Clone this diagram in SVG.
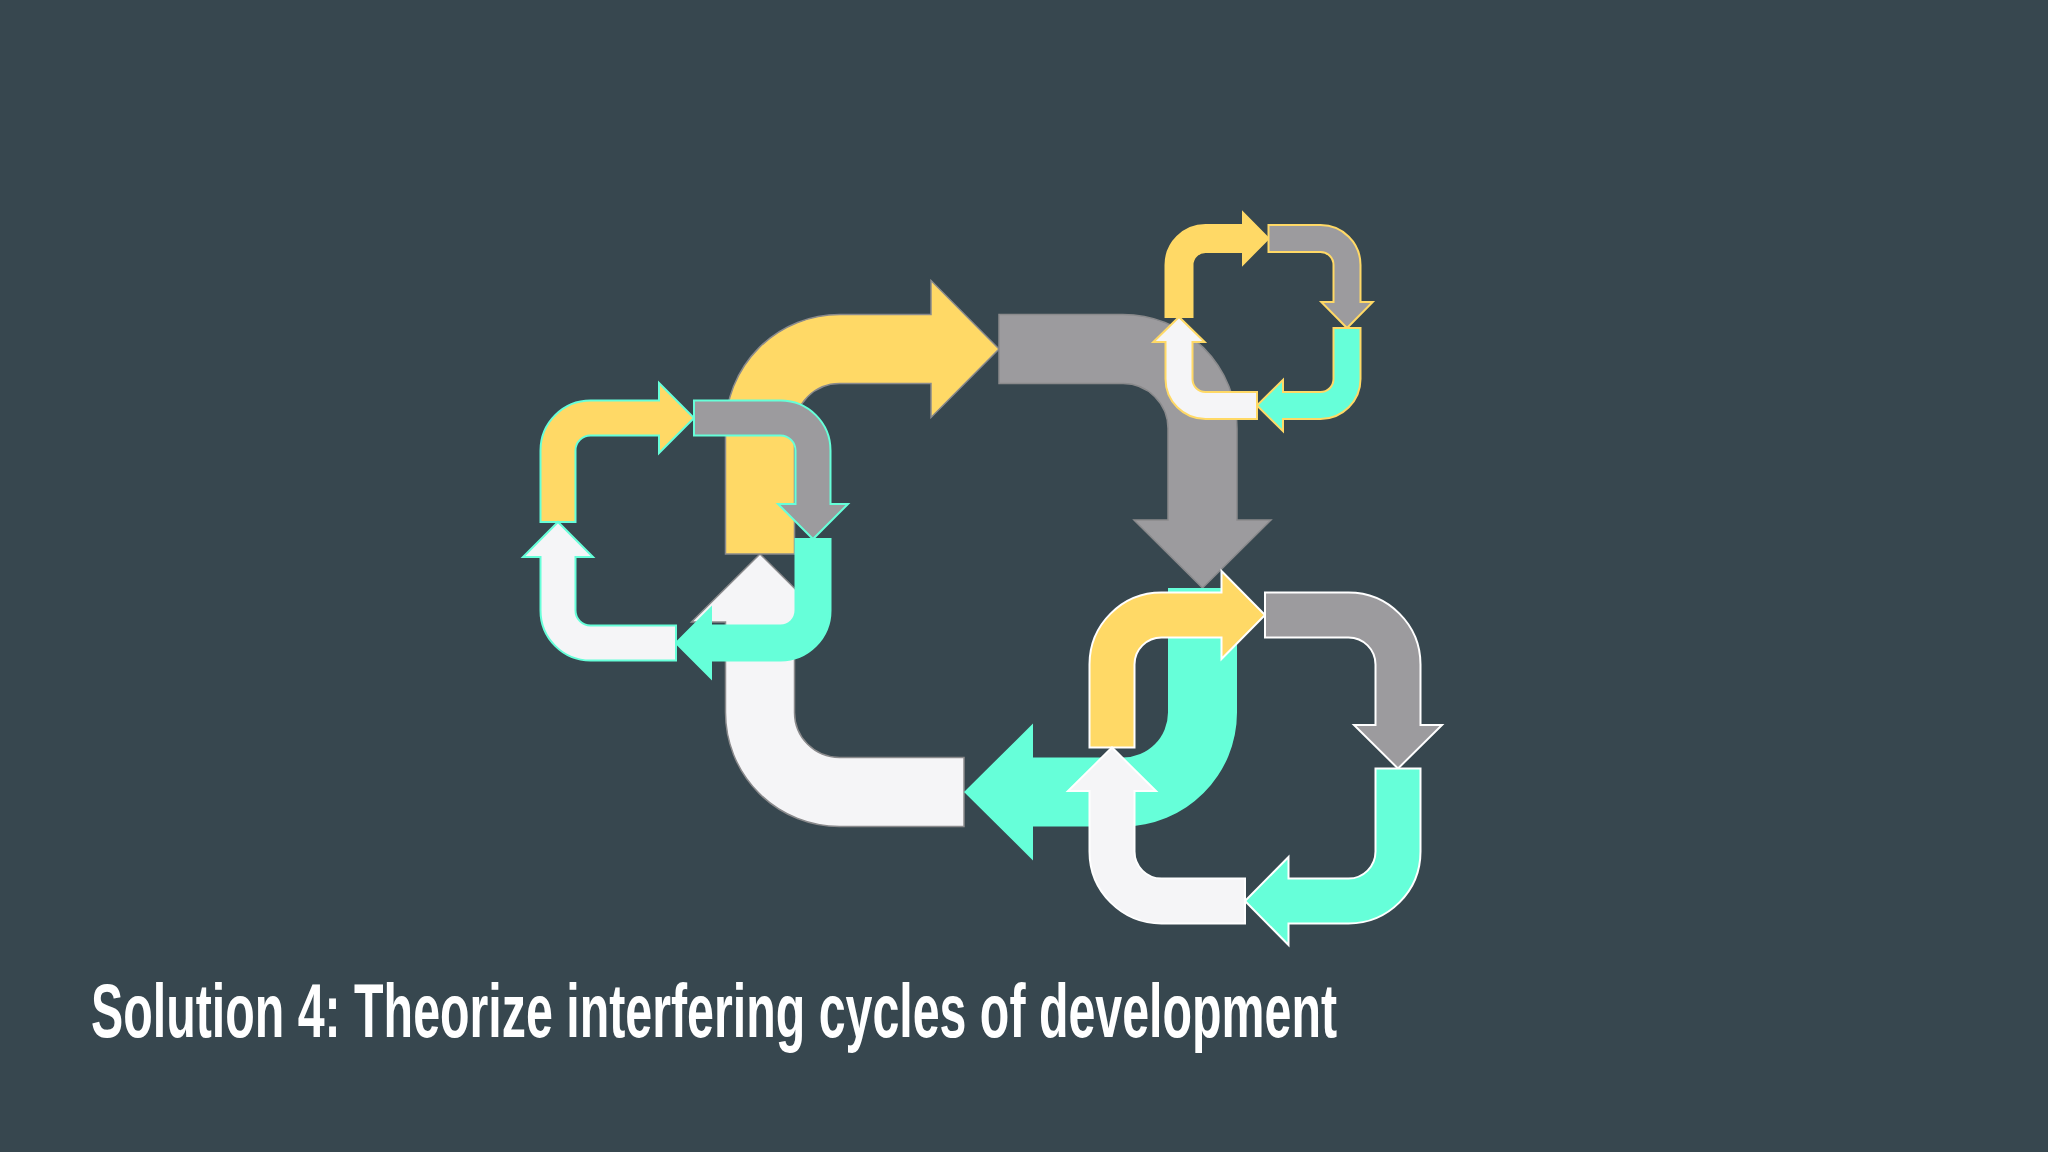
<svg xmlns="http://www.w3.org/2000/svg" width="2048" height="1152" viewBox="0 0 2048 1152">
<style>
.y{fill:#FFD966}.g{fill:#9C9B9E}.t{fill:#66FFD9}.w{fill:#F5F5F7}
.big path{stroke:#8A8A8C;stroke-width:1.5;stroke-linejoin:miter}
.big path.t{stroke:none}
.cl path{stroke:#66FFD9;stroke-width:2}
.ct path{stroke:#FFD966;stroke-width:2}
.cb path{stroke:#FFFFFF;stroke-width:2}
.title{font-family:"Liberation Sans",Arial,sans-serif;font-weight:bold;font-size:76px;fill:#FFFFFF}
</style>
<rect width="2048" height="1152" fill="#37474F"/>
<g id="big-cycle" class="big">
<path class="w" d="M964,826.5 L839.5,826.5 A114,114 0 0 1 725.5,712.5 L725.5,622 L691.5,622 L760,554 L828.5,622 L794.5,622 L794.5,712.5 A45,45 0 0 0 839.5,757.5 L964,757.5 Z"/>
<path class="y" d="M725.5,554 L725.5,428.5 A114,114 0 0 1 839.5,314.5 L931,314.5 L931,280.5 L999,349 L931,417.5 L931,383.5 L839.5,383.5 A45,45 0 0 0 794.5,428.5 L794.5,554 Z"/>
<path class="g" d="M999,314.5 L1123,314.5 A114,114 0 0 1 1237,428.5 L1237,520 L1271,520 L1202.5,588 L1134,520 L1168,520 L1168,428.5 A45,45 0 0 0 1123,383.5 L999,383.5 Z"/>
<path class="t" d="M1237,588 L1237,712.5 A114,114 0 0 1 1123,826.5 L1033,826.5 L1033,860.5 L964,792 L1033,723.5 L1033,757.5 L1123,757.5 A45,45 0 0 0 1168,712.5 L1168,588 Z"/>
</g>
<g id="left-cycle" class="cl">
<path class="y" d="M540.5,522 L540.5,450.5 A50,50 0 0 1 590.5,400.5 L659,400.5 L659,383 L694,418 L659,453 L659,435.5 L590.5,435.5 A15,15 0 0 0 575.5,450.5 L575.5,522 Z"/>
<path class="g" d="M694,400.5 L780.5,400.5 A50,50 0 0 1 830.5,450.5 L830.5,504 L848,504 L813,539 L778,504 L795.5,504 L795.5,450.5 A15,15 0 0 0 780.5,435.5 L694,435.5 Z"/>
<path class="t" d="M830.5,539 L830.5,610.5 A50,50 0 0 1 780.5,660.5 L711,660.5 L711,678 L676,643 L711,608 L711,625.5 L780.5,625.5 A15,15 0 0 0 795.5,610.5 L795.5,539 Z"/>
<path class="w" d="M676,660.5 L590.5,660.5 A50,50 0 0 1 540.5,610.5 L540.5,557 L523,557 L558,522 L593,557 L575.5,557 L575.5,610.5 A15,15 0 0 0 590.5,625.5 L676,625.5 Z"/>
</g>
<g id="top-right-cycle" class="ct">
<path class="y" d="M1165.5,317 L1165.5,265 A40,40 0 0 1 1205.5,225 L1243,225 L1243,212.8 L1268.5,238.5 L1243,264.2 L1243,252 L1205.5,252 A13,13 0 0 0 1192.5,265 L1192.5,317 Z"/>
<path class="g" d="M1268.5,225 L1320.5,225 A40,40 0 0 1 1360.5,265 L1360.5,302 L1372.7,302 L1347,328 L1321.3,302 L1333.5,302 L1333.5,265 A13,13 0 0 0 1320.5,252 L1268.5,252 Z"/>
<path class="t" d="M1360.5,328 L1360.5,379 A40,40 0 0 1 1320.5,419 L1283,419 L1283,431.2 L1257,405.5 L1283,379.8 L1283,392 L1320.5,392 A13,13 0 0 0 1333.5,379 L1333.5,328 Z"/>
<path class="w" d="M1257,419 L1205.5,419 A40,40 0 0 1 1165.5,379 L1165.5,342 L1153.3,342 L1179,317 L1204.7,342 L1192.5,342 L1192.5,379 A13,13 0 0 0 1205.5,392 L1257,392 Z"/>
</g>
<g id="bottom-right-cycle" class="cb">
<path class="y" d="M1089.5,747.5 L1089.5,664.5 A72,72 0 0 1 1161.5,592.5 L1221.5,592.5 L1221.5,571 L1265,615 L1221.5,659 L1221.5,637.5 L1161.5,637.5 A27,27 0 0 0 1134.5,664.5 L1134.5,747.5 Z"/>
<path class="g" d="M1265,592.5 L1348.5,592.5 A72,72 0 0 1 1420.5,664.5 L1420.5,725 L1442,725 L1398,768.5 L1354,725 L1375.5,725 L1375.5,664.5 A27,27 0 0 0 1348.5,637.5 L1265,637.5 Z"/>
<path class="t" d="M1420.5,768.5 L1420.5,851.5 A72,72 0 0 1 1348.5,923.5 L1288.5,923.5 L1288.5,945 L1245,901 L1288.5,857 L1288.5,878.5 L1348.5,878.5 A27,27 0 0 0 1375.5,851.5 L1375.5,768.5 Z"/>
<path class="w" d="M1245,923.5 L1161.5,923.5 A72,72 0 0 1 1089.5,851.5 L1089.5,791 L1068,791 L1112,747.5 L1156,791 L1134.5,791 L1134.5,851.5 A27,27 0 0 0 1161.5,878.5 L1245,878.5 Z"/>
</g>
<text class="title" x="91" y="1037" textLength="1246" lengthAdjust="spacingAndGlyphs">Solution 4: Theorize interfering cycles of development</text>
</svg>
